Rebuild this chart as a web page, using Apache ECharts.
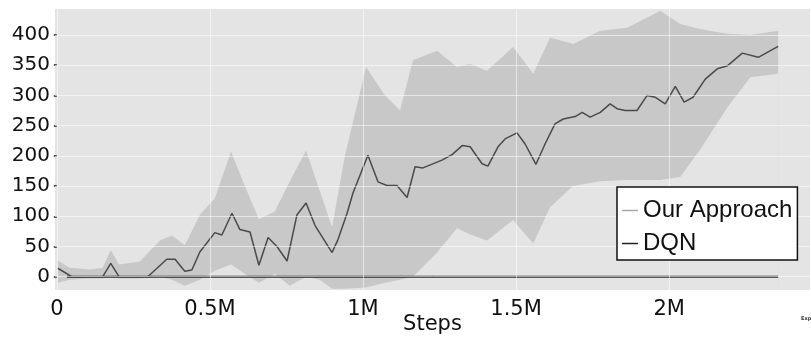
<!DOCTYPE html>
<html>
<head>
<meta charset="utf-8">
<script src="https://cdn.jsdelivr.net/npm/echarts@6/dist/echarts.min.js"></script>
<style>
  html, body { margin: 0; padding: 0; background: #ffffff; }
  #chart { width: 811px; height: 337px; }
</style>
</head>
<body>
<div id="chart"></div>
<script>
// Training curve: mean reward of our approach (with spread band) against DQN.
const meanSteps = [3000, 49000, 150000, 176000, 203000, 297000, 359000, 386000, 418000, 441000,
  467000, 516000, 539000, 572000, 598000, 631000, 660000, 690000, 719000, 752000,
  784000, 814000, 843000, 899000, 918000, 948000, 967000, 1016000, 1049000, 1078000,
  1111000, 1144000, 1170000, 1196000, 1258000, 1291000, 1324000, 1350000, 1389000, 1408000,
  1441000, 1464000, 1503000, 1529000, 1565000, 1595000, 1627000, 1654000, 1693000, 1716000,
  1742000, 1775000, 1807000, 1830000, 1856000, 1895000, 1928000, 1954000, 1987000, 2020000,
  2049000, 2078000, 2118000, 2157000, 2190000, 2239000, 2291000, 2356000];
const meanReward = [14, 0, 0, 22, 0, 0, 29, 29, 9, 11,
  41, 73, 69, 105, 78, 74, 19, 65, 50, 26,
  102, 122, 85, 40, 61, 105, 138, 201, 157, 151,
  151, 131, 182, 180, 193, 202, 217, 215, 187, 183,
  215, 228, 238, 220, 186, 220, 253, 261, 265, 272,
  264, 272, 286, 278, 275, 275, 300, 297, 286, 315,
  289, 297, 327, 344, 349, 370, 363, 381];

const bandSteps = [3000, 42000, 108000, 150000, 176000, 203000, 271000, 337000, 376000, 418000,
  467000, 516000, 569000, 614000, 660000, 712000, 761000, 814000, 859000, 899000,
  941000, 1010000, 1072000, 1121000, 1163000, 1242000, 1307000, 1350000, 1405000, 1490000,
  1556000, 1611000, 1686000, 1775000, 1863000, 1971000, 2036000, 2101000, 2190000, 2265000, 2356000];
const bandLow = [-10, -5, -3, -3, 0, -3, -3, 0, -5, -15,
  -5, 10, 20, 5, -10, 5, -15, 0, -5, -20,
  -20, -18, -10, -5, 0, 40, 80, 70, 60, 94,
  55, 115, 150, 158, 160, 160, 165, 210, 280, 330, 336];
const bandHigh = [27, 15, 12, 15, 44, 20, 25, 60, 68, 52,
  102, 130, 207, 150, 95, 108, 158, 209, 142, 82,
  200, 347, 300, 275, 358, 374, 347, 352, 341, 380,
  336, 396, 385, 407, 412, 440, 418, 410, 402, 400, 407];

const dqnSteps = [33000, 500000, 1000000, 1500000, 2000000, 2356000];
const dqnReward = [0, 0, 0, 0, 0, 0];

const yTicks = [0, 50, 100, 150, 200, 250, 300, 350, 400];
const xTicks = [0, 500000, 1000000, 1500000, 2000000];

const PLOT_BG = '#e4e4e4';
const BAND = '#c8c8c8';

const pairs = (xs, ys) => xs.map((x, i) => [x, ys[i]]);

const chart = echarts.init(document.getElementById('chart'), null, { renderer: 'canvas' });

chart.setOption({
  animation: false,
  backgroundColor: '#ffffff',
  color: ['#4a4a4a', '#2a2a2a'],
  grid: {
    left: 55, right: 1, top: 9, bottom: 47,
    outerBoundsMode: 'none',
    containLabel: false,
    show: true, backgroundColor: PLOT_BG, borderWidth: 0
  },
  xAxis: {
    type: 'value',
    min: -6000,
    max: 2460000,
    name: 'Steps',
    nameLocation: 'middle',
    nameGap: 24,
    nameMoveOverlap: false,
    nameTextStyle: { fontFamily: 'DejaVu Sans', fontSize: 21, color: '#111' },
    axisLine: { show: false },
    axisTick: { show: false, customValues: xTicks },
    axisLabel: {
      customValues: xTicks,
      margin: 9,
      fontFamily: 'DejaVu Sans', fontSize: 21, color: '#111',
      formatter: v => v === 0 ? '0' : (v / 1e6) + 'M'
    },
    splitLine: { show: false }
  },
  yAxis: {
    type: 'value',
    min: -22,
    max: 443,
    axisLine: { show: false },
    axisTick: { show: true, customValues: yTicks, length: 3, lineStyle: { color: '#222', width: 1.5 } },
    axisLabel: {
      customValues: yTicks,
      margin: 5,
      fontFamily: 'DejaVu Sans', fontSize: 20, color: '#111'
    },
    splitLine: { show: false }
  },
  legend: {
    orient: 'vertical',
    left: 617, top: 187,
    z: 10,
    padding: [9, 5, 2, 5],
    itemGap: 4,
    itemWidth: 16,
    itemHeight: 1.5,
    backgroundColor: '#ffffff',
    borderColor: '#111',
    borderWidth: 1.5,
    borderRadius: 0,
    textStyle: { fontFamily: 'Liberation Sans', fontSize: 24, lineHeight: 29, color: '#111' },
    data: [
      { name: 'Our Approach', icon: 'rect', itemStyle: { color: '#a8a8a8' } },
      { name: 'DQN', icon: 'rect', itemStyle: { color: '#222222' } }
    ]
  },
  graphic: [{
    type: 'text', left: 801, top: 316,
    style: { text: 'Exp', fontSize: 5, fontWeight: 'bold', fill: '#333', fontFamily: 'DejaVu Sans' }
  }],
  series: [
    {
      // upper edge of the spread, filled down to the bottom of the plot
      name: 'band-high', type: 'line',
      data: pairs(bandSteps, bandHigh), symbol: 'none', silent: true,
      lineStyle: { width: 0, opacity: 0 },
      areaStyle: { color: BAND, opacity: 1, origin: 'start' }, z: 1
    },
    {
      // lower edge of the spread, cleared back to the plot colour
      name: 'band-low', type: 'line',
      data: pairs(bandSteps, bandLow), symbol: 'none', silent: true,
      lineStyle: { width: 0, opacity: 0 },
      areaStyle: { color: PLOT_BG, opacity: 1, origin: 'start' }, z: 1
    },
    {
      // faint reference lines laid over the shading
      name: 'grid-y', type: 'line', data: [], silent: true, z: 2,
      markLine: {
        symbol: 'none', silent: true, label: { show: false },
        lineStyle: { color: 'rgba(255,255,255,0.55)', width: 1, type: 'solid' },
        data: yTicks.map(v => ({ yAxis: v })).concat(xTicks.map(v => ({ xAxis: v })))
      }
    },
    {
      name: 'DQN', type: 'line', data: pairs(dqnSteps, dqnReward),
      symbol: 'none', itemStyle: { color: '#222222' },
      lineStyle: { color: '#2a2a2a', width: 2 }, z: 3
    },
    {
      name: 'Our Approach', type: 'line', data: pairs(meanSteps, meanReward),
      symbol: 'none', itemStyle: { color: '#a8a8a8' },
      lineStyle: { color: '#4a4a4a', width: 1.5 }, z: 4
    }
  ]
});
</script>
</body>
</html>
